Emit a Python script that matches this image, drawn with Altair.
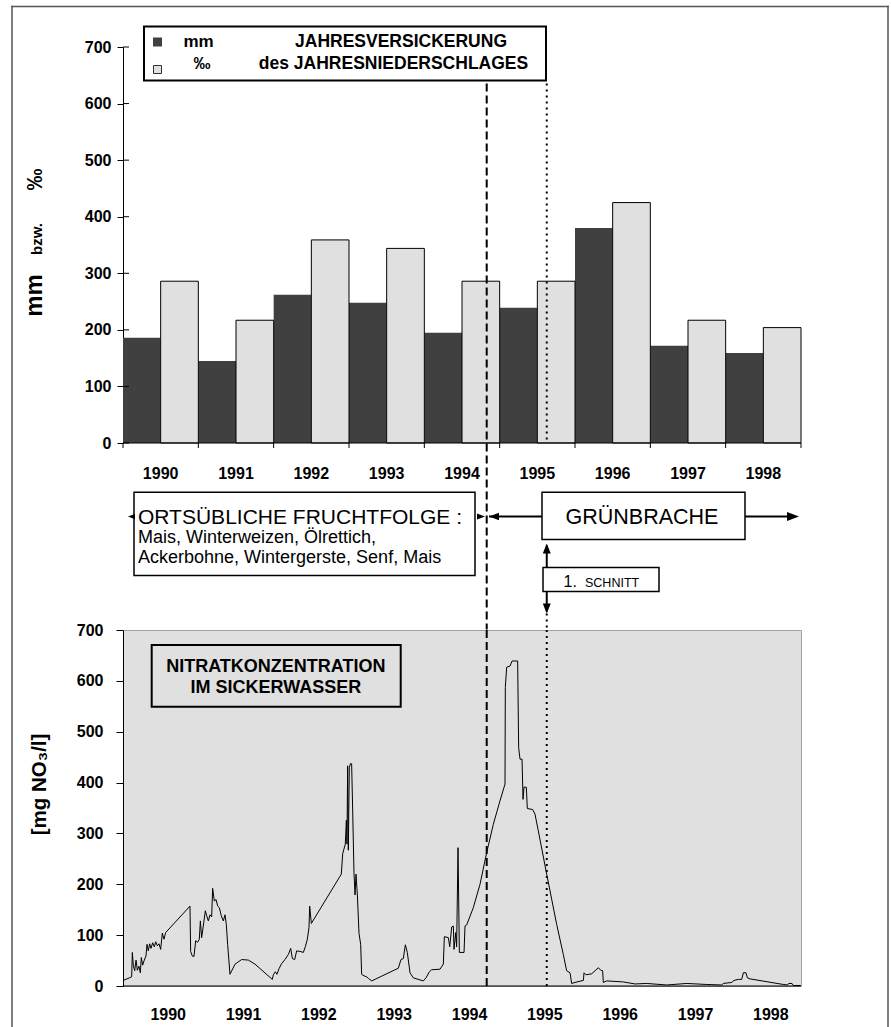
import altair as alt
import pandas as pd

# ---------------- data ----------------
# annual seepage (Jahresversickerung)
jahre = [1990, 1991, 1992, 1993, 1994, 1995, 1996, 1997, 1998]
versickerung_mm = [186, 145, 262, 248, 195, 239, 380, 172, 159]
versickerung_promille = [286, 217, 359, 344, 286, 286, 425, 217, 204]

# nitrate concentration in seepage water, time as decimal year
zeit = [
    1989.404, 1989.484, 1989.515, 1989.524, 1989.537, 1989.555, 1989.573, 1989.590, 1989.612,
    1989.630, 1989.643, 1989.661, 1989.683, 1989.705, 1989.719, 1989.736, 1989.754, 1989.772,
    1989.794, 1989.816, 1989.834, 1989.856, 1989.878, 1989.900, 1989.922, 1989.944, 1989.966,
    1990.289, 1990.298, 1990.320, 1990.342, 1990.365, 1990.391, 1990.413, 1990.427, 1990.444,
    1990.466, 1990.493, 1990.511, 1990.533, 1990.555, 1990.577, 1990.590, 1990.612, 1990.635,
    1990.657, 1990.679, 1990.705, 1990.732, 1990.754, 1990.772, 1990.789, 1990.820, 1990.887,
    1990.975, 1991.064, 1991.152, 1991.382, 1991.396, 1991.422, 1991.444, 1991.471, 1991.506,
    1991.550, 1991.595, 1991.626, 1991.648, 1991.679, 1991.705, 1991.750, 1991.794, 1991.820,
    1991.847, 1991.869, 1991.878, 1991.900, 1992.298, 1992.316, 1992.351, 1992.365, 1992.373,
    1992.382, 1992.391, 1992.404, 1992.418, 1992.435, 1992.449, 1992.466, 1992.480, 1992.493,
    1992.511, 1992.533, 1992.555, 1992.568, 1992.599, 1992.635, 1992.657, 1992.701, 1993.055,
    1993.090, 1993.121, 1993.148, 1993.174, 1993.210, 1993.254, 1993.387, 1993.422, 1993.467,
    1993.497, 1993.608, 1993.652, 1993.666, 1993.719, 1993.737, 1993.763, 1993.785, 1993.794,
    1993.816, 1993.829, 1993.847, 1993.865, 1993.927, 1993.940, 1993.962, 1994.050, 1994.139,
    1994.227, 1994.316, 1994.404, 1994.471, 1994.475, 1994.493, 1994.537, 1994.564, 1994.639,
    1994.652, 1994.670, 1994.697, 1994.710, 1994.723, 1994.754, 1994.767, 1994.838, 1994.869,
    1994.913, 1995.024, 1995.157, 1995.245, 1995.289, 1995.334, 1995.356, 1995.400, 1995.511,
    1995.520, 1995.546, 1995.621, 1995.666, 1995.710, 1995.741, 1995.767, 1995.776, 1995.821,
    1996.042, 1996.197, 1996.351, 1996.617, 1996.882, 1997.148, 1997.347, 1997.369, 1997.480,
    1997.511, 1997.568, 1997.613, 1997.635, 1997.670, 1997.688, 1997.723, 1998.166, 1998.219,
    1998.236, 1998.281, 1998.298, 1998.395,
]
nitrat = [
    11, 16, 18, 66, 41, 30, 51, 31, 39,
    26, 56, 41, 51, 59, 82, 69, 83, 74,
    85, 77, 87, 79, 83, 72, 104, 92, 105,
    157, 68, 59, 58, 89, 86, 92, 128, 95,
    118, 148, 138, 128, 140, 136, 192, 167, 170,
    157, 154, 138, 128, 140, 121, 82, 23, 43,
    52, 51, 43, 13, 22, 28, 23, 34, 44,
    52, 62, 74, 54, 52, 69, 68, 66, 77,
    92, 115, 157, 123, 220, 260, 279, 326, 279,
    433, 267, 429, 437, 437, 344, 223, 179, 220,
    179, 103, 82, 23, 20, 18, 15, 10, 35,
    52, 54, 81, 66, 26, 16, 10, 16, 28,
    32, 33, 43, 97, 95, 77, 116, 118, 72,
    105, 77, 272, 66, 66, 118, 120, 154, 200,
    262, 318, 364, 397, 587, 627, 629, 639, 639,
    469, 446, 446, 367, 391, 391, 349, 347, 338,
    305, 220, 121, 62, 30, 26, 5, 7, 11,
    26, 22, 24, 30, 36, 31, 30, 7, 10,
    8, 4, 5, 2, 5, 3, 2, 5, 7,
    11, 13, 13, 26, 26, 16, 14, 3, 2,
    5, 5, 1, 1,
]

# event markers (decimal year)
beginn_gruenbrache = 1994.228
erster_schnitt = 1995.025

achsen_werte = [0, 100, 200, 300, 400, 500, 600, 700]

# ---------------- layout / style ----------------
FONT = "Liberation Sans, Arial, Helvetica, sans-serif"
DUNKEL = "#404040"
HELL = "#e0e0e0"
RAHMEN = "#555555"
W = 678
H_OBEN, H_MITTE, H_UNTEN = 396, 186.5, 356
UNTEN_START = H_OBEN + H_MITTE          # top of the nitrate plot, in top-panel pixels
xs = alt.Scale(domain=[1989.4, 1998.4], nice=False, zero=False)
ys = alt.Scale(domain=[0, 700], nice=False, zero=True)
eins = pd.DataFrame({"k": [0]})
LINKS_X, RECHTS_X = -111, 765
DASH = [8, 4]
DOT = [2, 4]


def text(t, x, y, size, weight="bold", align="center", baseline="middle", angle=0):
    return alt.Chart(pd.DataFrame({"t": [t]})).mark_text(
        font=FONT, fontSize=size, fontWeight=weight, align=align,
        baseline=baseline, angle=angle, color="black",
    ).encode(x=alt.value(x), y=alt.value(y), text="t:N")


def streifen(x1, x2, y1, y2, color=RAHMEN):
    return alt.Chart(eins).mark_rect(color=color, strokeWidth=0).encode(
        x=alt.value(x1), x2=alt.value(x2), y=alt.value(y1), y2=alt.value(y2))


def hrule(y_px, x1, x2, width=1, color="black"):
    return alt.Chart(eins).mark_rule(color=color, strokeWidth=width).encode(
        x=alt.value(x1), x2=alt.value(x2), y=alt.value(y_px))


def marker(jahr, y1, y2, dash):
    return alt.Chart(pd.DataFrame({"x": [jahr]})).mark_rule(
        color="black", strokeWidth=2, strokeDash=dash).encode(
        x=alt.X("x:Q", scale=xs, axis=None, title=None),
        y=alt.value(y1), y2=alt.value(y2))


def spitze(path, x_px, y_px, size):
    return alt.Chart(eins).mark_point(
        shape=path, filled=True, opacity=1, color="black", size=size).encode(
        x=alt.value(x_px), y=alt.value(y_px))


def jahres_beschriftung(df, feld, y_px):
    return alt.Chart(df).mark_text(
        font=FONT, fontSize=16, fontWeight="bold", color="black",
        baseline="middle").encode(
        x=alt.X(f"{feld}:Q", scale=xs, axis=None, title=None),
        y=alt.value(y_px), text=alt.Text("jahr:Q", format="d"))


# ---------------- top panel: annual seepage bars ----------------
balken = pd.DataFrame({"jahr": jahre, "mm": versickerung_mm,
                       "promille": versickerung_promille})
balken["x_a"] = balken.jahr - 0.6
balken["x_m"] = balken.jahr - 0.1
balken["x_b"] = balken.jahr + 0.4
balken["null"] = 0

y_achse_oben = alt.Axis(values=achsen_werte, tickSize=6, labelPadding=6,
                        domainColor="black", tickColor="black", grid=False)

dunkel = alt.Chart(balken).mark_rect(color=DUNKEL).encode(
    x=alt.X("x_a:Q", scale=xs, axis=None, title=None),
    x2="x_m", y=alt.Y("mm:Q", scale=ys, axis=y_achse_oben, title=None),
    y2="null")
hell = alt.Chart(balken).mark_rect(fill=HELL, stroke="black", strokeWidth=1).encode(
    x=alt.X("x_m:Q", scale=xs, axis=None, title=None), x2="x_b",
    y=alt.Y("promille:Q", scale=ys, title=None), y2="null")

innen_ticks = alt.Chart(pd.DataFrame({"v": achsen_werte})).mark_rule(
    color="black").encode(x=alt.value(0), x2=alt.value(6),
                          y=alt.Y("v:Q", scale=ys, title=None))
grenzen = alt.Chart(pd.DataFrame({"g": [jahre[0] - 0.6] + [j + 0.4 for j in jahre]})).mark_rule(
    color="black").encode(x=alt.X("g:Q", scale=xs, axis=None, title=None),
                          y=alt.value(H_OBEN), y2=alt.value(H_OBEN + 5))

legende_box = alt.Chart(eins).mark_rect(fill="white", stroke="black", strokeWidth=2).encode(
    x=alt.value(21), x2=alt.value(423), y=alt.value(-20.5), y2=alt.value(33.5))
leg_dunkel = alt.Chart(eins).mark_point(shape="square", filled=True, opacity=1,
                                        color=DUNKEL, size=81).encode(
    x=alt.value(34.5), y=alt.value(-5))
leg_hell = alt.Chart(eins).mark_point(shape="square", filled=True, opacity=1,
                                      fill=HELL, stroke="#333333", strokeWidth=1,
                                      size=64).encode(
    x=alt.value(34.5), y=alt.value(22.5))

RAHMEN_OBEN, RAHMEN_UNTEN = -40.5, 980.5

oben = alt.layer(
    dunkel, hell, innen_ticks, grenzen,
    hrule(H_OBEN, 0, W),
    jahres_beschriftung(balken, "x_m", H_OBEN + 30.5),
    # Grünbrache start (dashed) and first cut (dotted) down to the nitrate plot
    marker(beginn_gruenbrache, 36.5, UNTEN_START, DASH),
    marker(erster_schnitt, 36.5, H_OBEN, DOT),
    marker(erster_schnitt, UNTEN_START - 16, UNTEN_START, DOT),
    legende_box, leg_dunkel, leg_hell,
    text("mm", 75.5, -4.8, 17),
    text("‰", 79, 16.5, 17),
    text("JAHRESVERSICKERUNG", 278, -4.8, 17.5),
    text("des JAHRESNIEDERSCHLAGES", 270.5, 16.5, 17.5),
    text("mm", -81, 248.5, 24, baseline="alphabetic", angle=270),
    text("bzw.", -81, 192, 15, baseline="alphabetic", angle=270),
    text("‰", -81, 132.5, 22, baseline="alphabetic", angle=270),
    # outer frame of the figure
    streifen(LINKS_X - 0.75, LINKS_X + 0.75, RAHMEN_OBEN - 0.75, RAHMEN_UNTEN),
    streifen(RECHTS_X - 0.75, RECHTS_X + 0.75, RAHMEN_OBEN - 0.75, RAHMEN_UNTEN),
    streifen(LINKS_X - 0.75, RECHTS_X + 0.75, RAHMEN_OBEN - 0.75, RAHMEN_OBEN + 0.75),
).properties(width=W, height=H_OBEN)

# ---------------- middle panel: land-use annotation ----------------
kasten = pd.DataFrame({
    "x": [11, 419, 420], "x2": [352, 622, 536],
    "y": [49.2, 49.2, 124.5], "y2": [132.5, 96.5, 148.5]})
linien = pd.DataFrame({"x": [366, 622], "x2": [419, 667], "y": [73.5, 73.5]})

kaesten = alt.Chart(kasten).mark_rect(fill="white", stroke="black", strokeWidth=1.5).encode(
    x=alt.X("x:Q", scale=None, axis=None), x2="x2",
    y=alt.Y("y:Q", scale=None, axis=None), y2="y2")
pfeil_linien = alt.Chart(linien).mark_rule(color="black", strokeWidth=2).encode(
    x=alt.X("x:Q", scale=None, axis=None), x2="x2",
    y=alt.Y("y:Q", scale=None, axis=None))
schnitt_linie = alt.Chart(pd.DataFrame({"x": [erster_schnitt]})).mark_rule(
    color="black", strokeWidth=2).encode(
    x=alt.X("x:Q", scale=xs, axis=None, title=None), y=alt.value(102.5), y2=alt.value(168.5))

RECHTS = "M0,0L-2,-0.75L-2,0.75Z"
LINKS = "M0,0L2,-0.75L2,0.75Z"
HOCH = "M0,0L-0.8,2L0.8,2Z"
RUNTER = "M0,0L-0.8,-2L0.8,-2Z"
schnitt_px = (erster_schnitt - 1989.4) / 9 * W

mitte = alt.layer(
    pfeil_linien, schnitt_linie,
    kaesten,
    spitze(LINKS, 5, 73.5, 49),
    spitze(RECHTS, 362, 73.5, 64),
    spitze(LINKS, 366, 73.5, 100),
    spitze(RECHTS, 676, 73.5, 144),
    spitze(HOCH, schnitt_px, 100.5, 100),
    spitze(RUNTER, schnitt_px, 170.5, 100),
    text("ORTSÜBLICHE FRUCHTFOLGE :", 15, 80.5, 21, weight="normal", align="left", baseline="alphabetic"),
    text("Mais, Winterweizen, Ölrettich,", 15, 99.5, 18, weight="normal", align="left", baseline="alphabetic"),
    text("Ackerbohne, Wintergerste, Senf, Mais", 15, 120, 18, weight="normal", align="left", baseline="alphabetic"),
    text("GRÜNBRACHE", 519, 81, 21.5, weight="normal", baseline="alphabetic"),
    text("1.", 440.5, 144.2, 16, weight="normal", align="left", baseline="alphabetic"),
    text("SCHNITT", 462, 144.2, 12.5, weight="normal", align="left", baseline="alphabetic"),
).properties(width=W, height=H_MITTE)

# ---------------- bottom panel: nitrate concentration ----------------
reihe = pd.DataFrame({"zeit": zeit, "nitrat": nitrat})
reihe["i"] = range(len(reihe))

linie = alt.Chart(reihe).mark_line(color="black", strokeWidth=1).encode(
    x=alt.X("zeit:Q", scale=xs, title=None, axis=None),
    y=alt.Y("nitrat:Q", scale=ys, title=None,
            axis=alt.Axis(values=achsen_werte, tickSize=7, labelPadding=13,
                          domainColor="black", tickColor="black", grid=False)),
    order="i:Q")

nitrat_box = alt.Chart(eins).mark_rect(fill=HELL, stroke="black", strokeWidth=2).encode(
    x=alt.value(28.7), x2=alt.value(277.7), y=alt.value(15), y2=alt.value(76.7))

unten = alt.layer(
    nitrat_box,
    marker(beginn_gruenbrache, 0, H_UNTEN, DASH),
    marker(erster_schnitt, 0, H_UNTEN, DOT),
    linie,
    hrule(H_UNTEN, 0, W),
    jahres_beschriftung(pd.DataFrame({"jahr": jahre}), "jahr", H_UNTEN + 28.5),
    text("NITRATKONZENTRATION", 152.8, 37, 18),
    text("IM SICKERWASSER", 152.8, 58.3, 18),
    text("[mg NO₃/l]", -77, 154.5, 20.5, baseline="alphabetic", angle=270),
).properties(width=W, height=H_UNTEN,
             view=alt.ViewBackground(fill=HELL, stroke="#a0a0a0", strokeWidth=1))

chart = alt.vconcat(oben, mitte, unten, spacing=0, bounds="flush").properties(
    padding={"left": 11, "top": 5, "right": 0, "bottom": 0},
    background="white",
).configure(font=FONT).configure_view(strokeWidth=0).configure_axis(
    labelFont=FONT, labelFontWeight="bold", labelFontSize=16, labelColor="black",
    grid=False,
)

chart.save("out.html", embed_options={"renderer": "svg", "actions": False})
